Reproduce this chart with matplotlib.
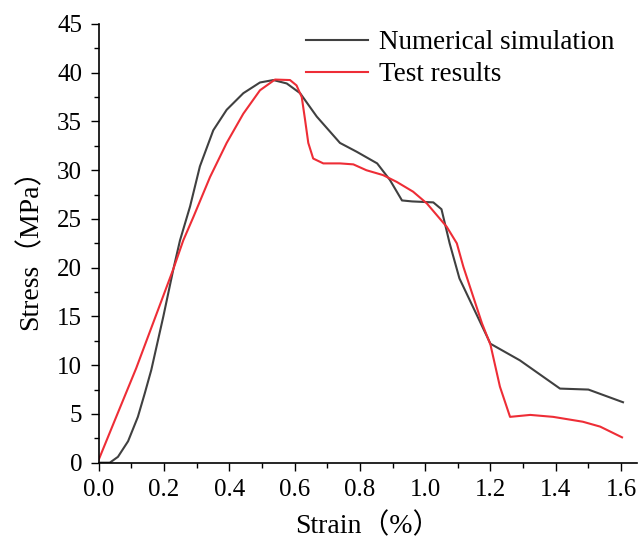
import matplotlib
matplotlib.use("Agg")
import matplotlib.pyplot as plt
from matplotlib.ticker import MultipleLocator

# numerical simulation curve (strain %, stress MPa)
sim_strain = [0.0, 0.034, 0.059, 0.09, 0.12, 0.141, 0.161, 0.198, 0.229, 0.249, 0.28,
              0.31, 0.351, 0.392, 0.443, 0.494, 0.535, 0.576, 0.617, 0.668, 0.739,
              0.79, 0.853, 0.892, 0.929, 0.96, 1.025, 1.05, 1.075, 1.105, 1.20,
              1.29, 1.413, 1.50, 1.606]
sim_stress = [0.0, 0.0, 0.6, 2.2, 4.7, 7.1, 9.5, 15.0, 19.9, 22.8, 26.3,
              30.4, 34.1, 36.2, 37.9, 39.0, 39.25, 38.9, 37.9, 35.5, 32.8,
              31.9, 30.7, 29.0, 26.9, 26.8, 26.7, 26.0, 22.5, 18.9, 12.2,
              10.5, 7.6, 7.5, 6.2]

# test results curve
test_strain = [0.0, 0.05, 0.115, 0.229, 0.259, 0.29, 0.341, 0.392, 0.443, 0.494,
               0.54, 0.586, 0.606, 0.622, 0.632, 0.642, 0.657, 0.688, 0.739, 0.78,
               0.82, 0.871, 0.913, 0.963, 1.005, 1.066, 1.097, 1.117, 1.174, 1.20,
               1.229, 1.26, 1.322, 1.392, 1.483, 1.536, 1.603]
test_stress = [0.3, 4.4, 9.7, 19.9, 22.8, 25.2, 29.3, 32.8, 35.8, 38.2,
               39.3, 39.25, 38.7, 37.5, 35.2, 32.8, 31.2, 30.7, 30.7, 30.6,
               30.0, 29.5, 28.8, 27.8, 26.6, 24.2, 22.5, 20.1, 14.3, 12.1,
               7.8, 4.7, 4.9, 4.7, 4.2, 3.7, 2.6]

plt.rcParams["font.family"] = ["Liberation Serif", "Noto Sans CJK SC"]

fig = plt.figure(figsize=(6.38, 5.38), dpi=100)
ax = fig.add_axes([0.1547, 0.14, 0.8443, 0.8154])

ax.plot(sim_strain, sim_stress, color="#404040", lw=1.5, label="Numerical simulation")
ax.plot(test_strain, test_stress, color="#ee2d36", lw=1.5, label="Test results")

ax.set_xlim(0, 1.65)
ax.set_ylim(0, 45)
ax.xaxis.set_minor_locator(MultipleLocator(0.1))
ax.yaxis.set_major_locator(MultipleLocator(5))
ax.yaxis.set_minor_locator(MultipleLocator(2.5))
ax.set_xticks([0.0, 0.2, 0.4, 0.6, 0.8, 1.0, 1.2, 1.4, 1.6])
ax.set_xticklabels(["0.0", "0.2", "0.4", "0.6", "0.8", "1.0", "1.2", "1.4", "1.6"])

for s in ["top", "right"]:
    ax.spines[s].set_visible(False)
for s in ["left", "bottom"]:
    ax.spines[s].set_linewidth(1.2)
ax.tick_params(which="major", direction="out", length=6, width=1.0, pad=6, labelsize=18)
ax.tick_params(which="minor", direction="out", length=3.5, width=1.0)

ax.set_xlabel("Strain（%）", fontsize=20, labelpad=8)
ax.set_ylabel("Stress（MPa）", fontsize=20, labelpad=10)

ax.legend(loc="upper left", bbox_to_anchor=(0.365, 1.01), frameon=False,
          fontsize=19.5, handlelength=2.3, handletextpad=0.4, labelspacing=0.25,
          borderaxespad=0.0)

fig.savefig("out.png", dpi=100)
